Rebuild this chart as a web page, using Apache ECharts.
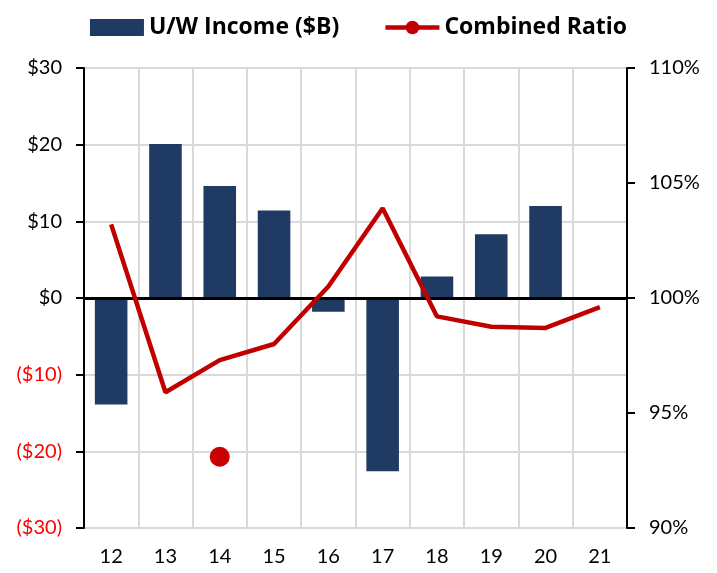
<!DOCTYPE html>
<html>
<head>
<meta charset="utf-8">
<script src="https://cdn.jsdelivr.net/npm/echarts@6/dist/echarts.min.js"></script>
<style>
  html, body { margin: 0; padding: 0; background: #fff; }
  #chart { width: 717px; height: 573px; }
</style>
</head>
<body>
<div id="chart"></div>
<script>
// 年份（类目）
const years = ['12', '13', '14', '15', '16', '17', '18', '19', '20', '21']
// 承保利润（十亿美元）
const uwIncome = [-13.9, 20.1, 14.6, 11.4, -1.8, -22.6, 2.8, 8.3, 12.0, null]
// 综合成本率（%）
const combinedRatio = [103.2, 95.9, 97.3, 98.0, 100.5, 103.9, 99.2, 98.75, 98.7, 99.6]
// 图中孤立的红点
const strayPoint = [['14', 93.1]]

const FONT = 'Lato'
const chart = echarts.init(document.getElementById('chart'))

const option = {
  animation: false,
  textStyle: { fontFamily: FONT },
  legend: {
    data: [
      { name: 'U/W Income ($B)', icon: 'rect' },
      { name: 'Combined Ratio', lineStyle: { width: 4.5 } }
    ],
    top: 11,
    left: 'center',
    itemWidth: 54,
    itemHeight: 17,
    itemGap: 44,
    textStyle: { fontFamily: 'Open Sans', fontWeight: 'bold', fontSize: 23, color: '#000' }
  },
  grid: { left: 84, right: 90, top: 68, bottom: 45 },
  xAxis: {
    type: 'category',
    data: years,
    boundaryGap: true,
    axisLine: { show: false },
    axisTick: { show: false },
    axisLabel: { color: '#000', fontSize: 20, margin: 19 },
    splitLine: { show: true, lineStyle: { color: '#D9D9D9', width: 2 } }
  },
  yAxis: [
    {
      type: 'value',
      min: -30,
      max: 30,
      interval: 10,
      axisLine: { show: true, lineStyle: { color: '#000', width: 2 } },
      axisTick: { show: true, length: 8, lineStyle: { color: '#000', width: 2 } },
      axisLabel: {
        fontSize: 20,
        margin: 22,
        formatter: (v) => v < 0 ? '($' + Math.abs(v) + ')' : '$' + v,
        color: (v) => Number(v) < 0 ? '#FF0000' : '#000'
      },
      splitLine: { show: true, lineStyle: { color: '#D9D9D9', width: 2 } }
    },
    {
      type: 'value',
      min: 90,
      max: 110,
      interval: 5,
      position: 'right',
      axisLine: { show: true, lineStyle: { color: '#000', width: 2 } },
      axisTick: { show: true, length: 8, lineStyle: { color: '#000', width: 2 } },
      axisLabel: { color: '#000', fontSize: 20, margin: 22, formatter: '{value}%' },
      splitLine: { show: false }
    }
  ],
  series: [
    {
      name: 'U/W Income ($B)',
      type: 'bar',
      data: uwIncome,
      barWidth: '60%',
      itemStyle: { color: '#1F3B63' },
      markLine: {
        silent: true,
        symbol: 'none',
        label: { show: false },
        lineStyle: { color: '#000', width: 3, type: 'solid' },
        data: [{ yAxis: 0 }]
      }
    },
    {
      name: 'Combined Ratio',
      type: 'line',
      yAxisIndex: 1,
      z: 5,
      data: combinedRatio,
      symbol: 'none',
      itemStyle: { color: '#C00000' },
      lineStyle: { color: '#C00000', width: 4.5 }
    },
    {
      name: 'stray',
      type: 'scatter',
      yAxisIndex: 1,
      z: 6,
      data: strayPoint,
      symbolSize: 20,
      itemStyle: { color: '#C80000', opacity: 1 }
    }
  ]
}

chart.setOption(option)
</script>
</body>
</html>
